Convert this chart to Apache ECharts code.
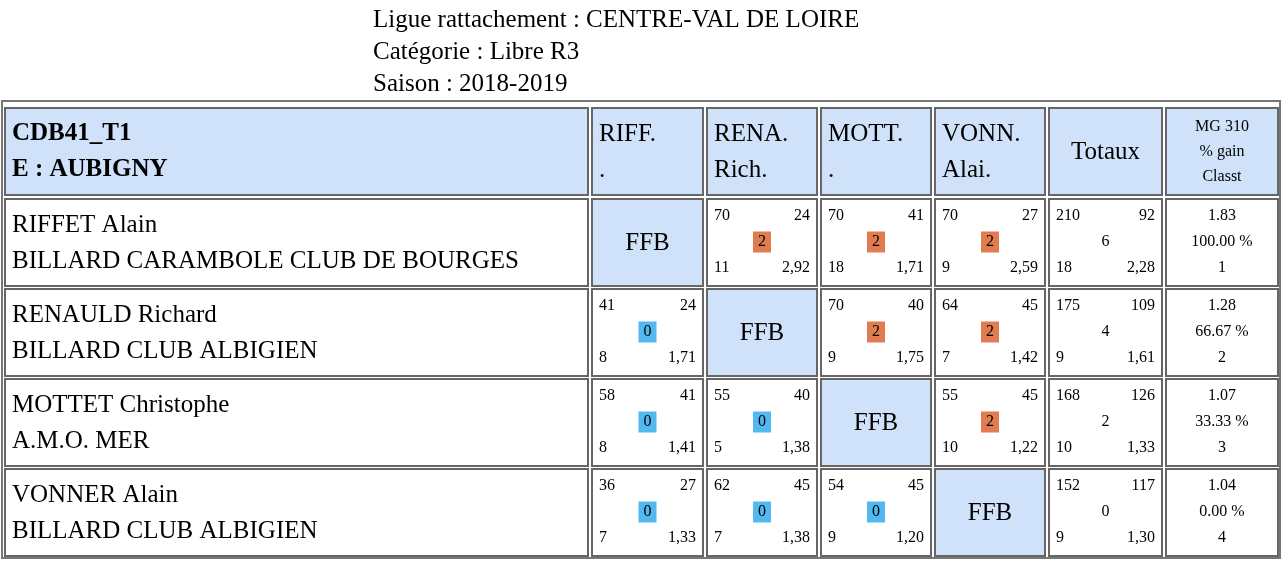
<!DOCTYPE html>
<html><head><meta charset="utf-8">
<script src="https://cdn.jsdelivr.net/npm/echarts@6/dist/echarts.min.js"></script>
<style>html,body{margin:0;background:#fff}#main{width:1283px;height:562px}</style>
</head><body><div id="main"></div>
<script>
const titleLines = ['Ligue rattachement : CENTRE-VAL DE LOIRE', 'Catégorie : Libre R3', 'Saison : 2018-2019']
const headTeam = ['CDB41_T1', 'E : AUBIGNY']
const headCols = [['RIFF.', '.'], ['RENA.', 'Rich.'], ['MOTT.', '.'], ['VONN.', 'Alai.']]
const players = ['RIFFET Alain', 'RENAULD Richard', 'MOTTET Christophe', 'VONNER Alain']
const clubs = ['BILLARD CARAMBOLE CLUB DE BOURGES', 'BILLARD CLUB ALBIGIEN', 'A.M.O. MER', 'BILLARD CLUB ALBIGIEN']
// match cells: [points, opp points, match pts, innings, average]
const matches = [
  [null, [70, 24, 2, 11, '2,92'], [70, 41, 2, 18, '1,71'], [70, 27, 2, 9, '2,59']],
  [[41, 24, 0, 8, '1,71'], null, [70, 40, 2, 9, '1,75'], [64, 45, 2, 7, '1,42']],
  [[58, 41, 0, 8, '1,41'], [55, 40, 0, 5, '1,38'], null, [55, 45, 2, 10, '1,22']],
  [[36, 27, 0, 7, '1,33'], [62, 45, 0, 7, '1,38'], [54, 45, 0, 9, '1,20'], null]
]
const totals = [[210, 92, 6, 18, '2,28'], [175, 109, 4, 9, '1,61'], [168, 126, 2, 10, '1,33'], [152, 117, 0, 9, '1,30']]
const mgLabel = ['MG 310', '% gain', 'Classt']
const mg = ['1.83', '1.28', '1.07', '1.04']
const gain = ['100.00 %', '66.67 %', '33.33 %', '0.00 %']
const rank = ['1', '2', '3', '4']

const colX = [5, 592, 707, 821, 935, 1049, 1166]
const colW = [583, 111, 110, 110, 110, 113, 112]
const rowY = [108, 199, 289, 379, 469]
const rowH = 87
const F = "'Liberation Serif', 'Times New Roman', serif"
const HEAD = '#cfe2f9', WIN = '#e07c50', LOSS = '#52b8f0'

const g = []
const txt = (x, y, t, size, opts = {}) => g.push({ type: 'text', x, y, style: Object.assign({ text: String(t), font: (opts.bold ? 'bold ' : '') + size + 'px ' + F, fill: '#000', align: 'left', verticalAlign: 'middle' }, opts.style || {}) })
const cell = (c, r, fill) => g.push({ type: 'rect', shape: { x: colX[c], y: rowY[r], width: colW[c], height: rowH }, style: { fill, stroke: '#666', lineWidth: 2 } })

titleLines.forEach((t, i) => txt(373, 20 + i * 32, t, 25))
g.push({ type: 'rect', shape: { x: 2, y: 101, width: 1278, height: 457 }, style: { fill: 'none', stroke: '#777', lineWidth: 2 } })

// header
cell(0, 0, HEAD)
txt(12, 134, headTeam[0], 25, { bold: true })
txt(12, 170, headTeam[1], 25, { bold: true })
headCols.forEach((h, i) => { cell(i + 1, 0, HEAD); txt(colX[i + 1] + 7, 134, h[0], 25); txt(colX[i + 1] + 7, 170, h[1], 25) })
cell(5, 0, HEAD)
txt(colX[5] + colW[5] / 2, 152, 'Totaux', 25, { style: { align: 'center' } })
cell(6, 0, HEAD)
mgLabel.forEach((t, i) => txt(colX[6] + colW[6] / 2, 127 + i * 25, t, 16, { style: { align: 'center' } }))

const smallCell = (c, r, d, badge) => {
  const x = colX[c], y = rowY[r]
  cell(c, r, '#fff')
  txt(x + 7, y + 17, d[0], 16)
  txt(x + colW[c] - 7, y + 17, d[1], 16, { style: { align: 'right' } })
  txt(x + 7, y + 69, d[3], 16)
  txt(x + colW[c] - 7, y + 69, d[4], 16, { style: { align: 'right' } })
  const s = badge ? { align: 'center', backgroundColor: d[2] > 0 ? WIN : LOSS, padding: [3, 5, 2, 5] } : { align: 'center' }
  txt(x + colW[c] / 2, y + 43, d[2], 16, { style: s })
}

players.forEach((p, r) => {
  const R = r + 1
  cell(0, R, '#fff')
  txt(12, rowY[R] + 26, p, 25)
  txt(12, rowY[R] + 62, clubs[r], 25)
  matches[r].forEach((m, c) => {
    if (m) smallCell(c + 1, R, m, true)
    else { cell(c + 1, R, HEAD); txt(colX[c + 1] + colW[c + 1] / 2, rowY[R] + 44, 'FFB', 25, { style: { align: 'center' } }) }
  })
  smallCell(5, R, totals[r], false)
  cell(6, R, '#fff')
  ;[mg[r], gain[r], rank[r]].forEach((t, i) => txt(colX[6] + colW[6] / 2, rowY[R] + 17 + i * 26, t, 16, { style: { align: 'center' } }))
})

const chart = echarts.init(document.getElementById('main'))
chart.setOption({ animation: false, graphic: g })
window.addEventListener('resize', () => chart.resize())
</script></body></html>
